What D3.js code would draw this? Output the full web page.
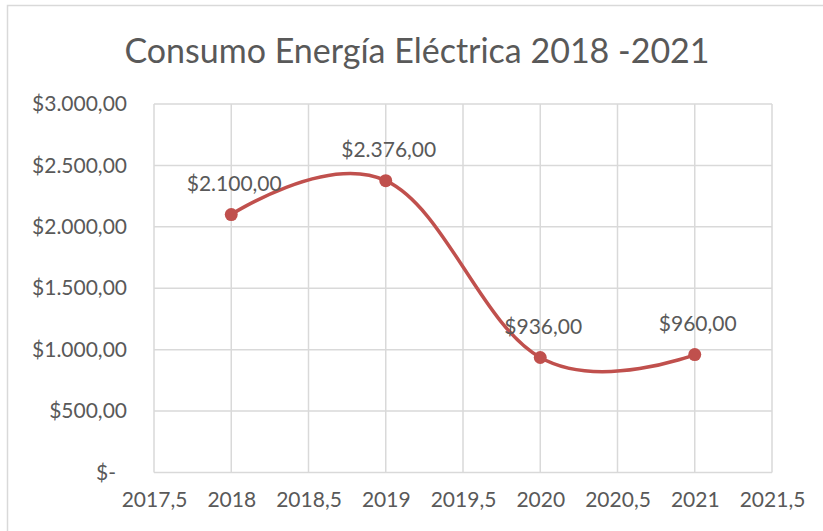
<!DOCTYPE html>
<html>
<head>
<meta charset="utf-8">
<title>Consumo Energía Eléctrica 2018 -2021</title>
<script src="https://d3js.org/d3.v7.min.js"></script>
<style>
  body { margin: 0; background: #fff; }
  text { font-family: Lato, "Open Sans", sans-serif; fill: #595959; }
</style>
</head>
<body>
<svg id="chart" width="823" height="531"></svg>
<script>
// data
var years = [2018, 2019, 2020, 2021];
var consumo = [2100, 2376, 936, 960];
var yTicks = [0, 500, 1000, 1500, 2000, 2500, 3000];
var xTicks = [2017.5, 2018, 2018.5, 2019, 2019.5, 2020, 2020.5, 2021, 2021.5];
var titulo = "Consumo Energía Eléctrica 2018 -2021";

var svg = d3.select("#chart");

// outer chart border
svg.append("rect")
    .attr("x", 7.5).attr("y", 5.5)
    .attr("width", 820).attr("height", 530)
    .attr("fill", "none").attr("stroke", "#d9d9d9").attr("stroke-width", 1.5);

var x = d3.scaleLinear().domain([2017.5, 2021.5]).range([154, 772]);
var y = d3.scaleLinear().domain([0, 3000]).range([472.5, 104]);

// format like Excel (es): $2.100,00
function fmt(v) {
    if (v === 0) return "$-";
    var s = v.toFixed(2).split(".");
    return "$" + s[0].replace(/\B(?=(\d{3})+(?!\d))/g, ".") + "," + s[1];
}

svg.append("text")
    .attr("x", 417).attr("y", 63)
    .attr("text-anchor", "middle")
    .style("font-size", "34px")
    .text(titulo);

// grid
svg.append("g").selectAll("line")
    .data(yTicks)
    .enter().append("line")
    .attr("x1", x(2017.5)).attr("x2", x(2021.5))
    .attr("y1", d => y(d)).attr("y2", d => y(d))
    .attr("stroke", "#d9d9d9").attr("stroke-width", 1.5);

svg.append("g").selectAll("line")
    .data(xTicks)
    .enter().append("line")
    .attr("x1", d => x(d)).attr("x2", d => x(d))
    .attr("y1", y(0)).attr("y2", y(3000))
    .attr("stroke", "#d9d9d9").attr("stroke-width", 1.5);

// y axis labels
var yAxis = svg.append("g")
    .attr("transform", "translate(" + (x(2017.5) - 27) + ",0)")
    .call(d3.axisLeft(y).tickValues(yTicks).tickFormat(fmt).tickSize(0).tickPadding(0));
yAxis.select(".domain").remove();
yAxis.selectAll("text")
    .style("font-size", "21px").style("font-family", null)
    .attr("fill", "#595959")
    .attr("dx", d => d === 0 ? -11 : 0);

// x axis labels
var xAxis = svg.append("g")
    .attr("transform", "translate(0," + y(0) + ")")
    .call(d3.axisBottom(x).tickValues(xTicks)
        .tickFormat(d => String(d).replace(".", ","))
        .tickSize(0).tickPadding(20));
xAxis.select(".domain").remove();
xAxis.selectAll("text")
    .style("font-size", "21px").style("font-family", null)
    .attr("fill", "#595959");

// smoothed line
var pts = years.map((d, i) => [d, consumo[i]]);
var line = d3.line()
    .x(d => x(d[0])).y(d => y(d[1]))
    .curve(d3.curveCardinal.tension(-0.15));

svg.append("path")
    .datum(pts)
    .attr("d", line)
    .attr("fill", "none")
    .attr("stroke", "#c0504d")
    .attr("stroke-width", 3.5);

svg.append("g").selectAll("circle")
    .data(pts)
    .enter().append("circle")
    .attr("cx", d => x(d[0])).attr("cy", d => y(d[1]))
    .attr("r", 6.5)
    .attr("fill", "#c0504d");

// data labels
svg.append("g").selectAll("text")
    .data(pts)
    .enter().append("text")
    .attr("x", d => x(d[0]) + 3).attr("y", d => y(d[1]) - 24)
    .attr("text-anchor", "middle")
    .style("font-size", "21px")
    .attr("fill", "#404040")
    .text(d => fmt(d[1]));
</script>
</body>
</html>
